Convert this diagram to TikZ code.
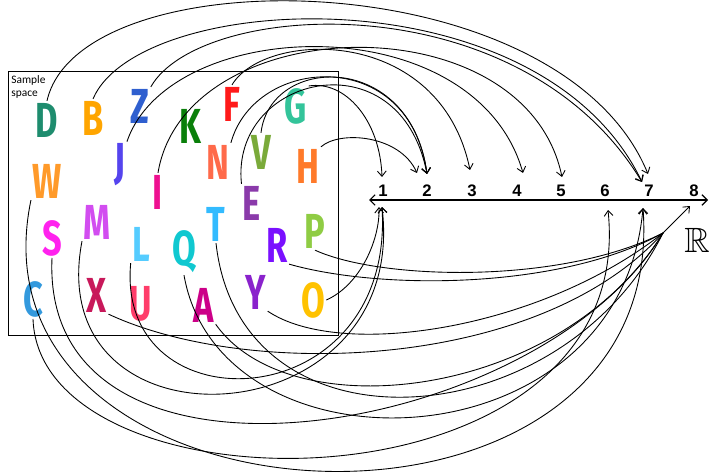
\documentclass[tikz,border=0pt]{standalone}
\usepackage{fontspec}
\usepackage{amssymb}
\setmainfont{Liberation Sans}
\newfontfamily\letterfont{Fira Sans}
\newfontfamily\notefont{Carlito}
\usetikzlibrary{arrows.meta}
\definecolor{colD}{RGB}{30,140,110}
\definecolor{colB}{RGB}{255,165,0}
\definecolor{colZ}{RGB}{47,95,207}
\definecolor{colK}{RGB}{10,127,10}
\definecolor{colF}{RGB}{255,26,26}
\definecolor{colG}{RGB}{51,196,154}
\definecolor{colJ}{RGB}{85,68,238}
\definecolor{colN}{RGB}{255,106,74}
\definecolor{colV}{RGB}{122,170,58}
\definecolor{colH}{RGB}{255,122,42}
\definecolor{colW}{RGB}{255,154,42}
\definecolor{colI}{RGB}{238,16,144}
\definecolor{colE}{RGB}{138,58,170}
\definecolor{colS}{RGB}{255,34,238}
\definecolor{colM}{RGB}{210,77,240}
\definecolor{colL}{RGB}{85,204,255}
\definecolor{colT}{RGB}{51,187,255}
\definecolor{colQ}{RGB}{16,200,208}
\definecolor{colR}{RGB}{122,16,255}
\definecolor{colP}{RGB}{143,204,68}
\definecolor{colC}{RGB}{51,153,221}
\definecolor{colX}{RGB}{200,24,90}
\definecolor{colU}{RGB}{255,61,106}
\definecolor{colA}{RGB}{204,0,136}
\definecolor{colY}{RGB}{138,34,204}
\definecolor{colO}{RGB}{255,194,0}
\begin{document}
\begin{tikzpicture}[x=0.02cm, y=-0.02cm,
  letter/.style={font=\letterfont\bfseries\fontsize{28}{28}\selectfont, inner sep=1pt, xscale=0.7},
  num/.style={font=\bfseries\fontsize{9.5}{10}\selectfont, inner sep=0pt},
  map/.style={-{Straight Barb[length=3pt,width=5pt]}, line width=0.5pt},
  link/.style={line width=0.5pt}
]
\useasboundingbox (0,0) rectangle (709,476);
\node[draw, line width=0.6pt, minimum width=6.6cm, minimum height=5.28cm, anchor=north west, inner sep=0pt] (space) at (8,71) {};
\node[font=\notefont\fontsize{6.5}{7.5}\selectfont, align=left, anchor=north west, inner sep=0pt] (spacelbl) at (11,75) {Sample\\space};
% letters of the sample space
\foreach \l/\x/\y in {D/47/120, B/93/118, Z/140/106, K/190/126, F/232/104, G/296/106,
  J/120/165, N/218/162, V/261/152, H/308/166, W/47/181, I/158/192, E/252/203,
  S/52/238, M/97/222, L/141/244, T/216/224, Q/184/252, R/277/245, P/315/231,
  C/33/299, X/97/295, U/141/304, A/204/305, Y/256/292, O/313/300}
  \node[letter, text=col\l] (\l) at (\x,\y) {\l};
% real line
\coordinate (axl) at (369,200);
\coordinate (axr) at (708,200);
\draw[{Straight Barb[length=3pt,width=6pt]}-{Straight Barb[length=3pt,width=6pt]}, line width=0.7pt] (axl) -- (axr);
\foreach \n/\x in {1/383, 2/427, 3/472, 4/517, 5/561, 6/605, 7/649, 8/694}
  \node[num] (n\n) at (\x,191) {\n};
\node[font=\fontsize{20}{20}\selectfont, inner sep=0pt] (reals) at (697,240) {$\mathbb{R}$};
% arrow ends
\coordinate (up1) at (382,177);
\coordinate (up2a) at (417,173);
\coordinate (up2b) at (427,174);
\coordinate (up3) at (470,170);
\coordinate (up4) at (523,173);
\coordinate (up5) at (562,177);
\coordinate (up7a) at (642,182);
\coordinate (up7b) at (648,174);
\coordinate (lo1a) at (379,207);
\coordinate (lo1b) at (382,207);
\coordinate (lo6) at (608,210);
\coordinate (lo7) at (643,208);
\coordinate (lo8) at (690,206);
\coordinate (join8) at (663,233);
% mappings from above
\draw[map] (D.north) .. controls (80,-45) and (560,-40) .. (up7b);
\draw[map] (B.north) .. controls (140,-10) and (540,-30) .. (up7a);
\draw[map] (Z.north east) .. controls (200,0) and (520,-20) .. (up7a);
\draw[map] (F.north) .. controls (265,30) and (440,25) .. (up3);
\draw[map] (J.north east) .. controls (170,15) and (475,5) .. (up4);
\draw[map] (I.north) .. controls (185,10) and (525,0) .. (up5);
\draw[map] (N.north east) .. controls (255,55) and (410,45) .. (up2b);
\draw[map] (V.north) .. controls (270,55) and (410,50) .. (up2b);
\draw[map] (E.north west) .. controls (230,75) and (400,35) .. (up2b);
\draw[map] (G.north east) .. controls (345,80) and (380,120) .. (up1);
\draw[map] (H.north east) .. controls (340,130) and (400,135) .. (up2a);
% mappings from below
\draw[map] (O.east) .. controls (360,285) and (380,240) .. (lo1a);
\draw[map] (L.south west) .. controls (115,430) and (395,420) .. (lo1b);
\draw[map] (M.south west) .. controls (40,460) and (410,440) .. (lo1b);
\draw[map] (C.south) .. controls (40,520) and (640,520) .. (lo6);
\draw[map] (W.south west) .. controls (-40,540) and (670,580) .. (lo7);
\draw[map] (Q.south) .. controls (220,480) and (620,470) .. (lo7);
\draw[link] (S.south) .. controls (40,520) and (540,440) .. (join8);
\draw[link] (X.south east) .. controls (250,380) and (540,370) .. (join8);
\draw[link] (Y.south east) .. controls (340,360) and (540,330) .. (join8);
\draw[link] (A.south east) .. controls (290,430) and (560,400) .. (join8);
\draw[link] (R.south east) .. controls (380,290) and (560,290) .. (join8);
\draw[link] (P.south) .. controls (380,280) and (560,285) .. (join8);
\draw[link] (T.south) .. controls (240,460) and (560,440) .. (join8);
\draw[map] (join8) -- (lo8);
\end{tikzpicture}
\end{document}
